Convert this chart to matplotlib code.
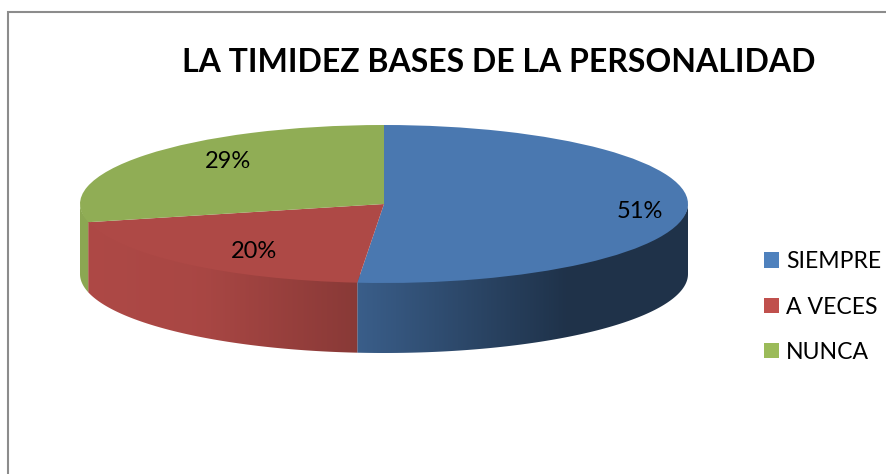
#!/usr/bin/env python3
# pie with a fake 3d side, like the excel one
import numpy as np
import matplotlib
matplotlib.use('Agg')
import matplotlib.pyplot as plt
from matplotlib.colors import to_rgb
from matplotlib.patches import Patch, Polygon, Rectangle

labels = ['SIEMPRE', 'A VECES', 'NUNCA']
values = [51.4, 19.9, 28.7]
title = 'LA TIMIDEZ BASES DE LA PERSONALIDAD'

top_colors = ['#4a78b0', '#ae4946', '#90ad55']
legend_colors = ['#4f81bd', '#c0504d', '#9bbb59']

W, H = 887, 474
plt.rcParams['font.family'] = ['Lato', 'DejaVu Sans']

fig = plt.figure(figsize=(W/100, H/100), dpi=100, facecolor='white')

# outer frame, no right/bottom line in the crop
fig.add_artist(Rectangle((8/W, -0.1), 1.1, 1.1 - 12/H, transform=fig.transFigure,
                         fill=False, edgecolor='#8c8c8c', linewidth=1.5))

# axes box = top ellipse + side wall, in pixels
depth = 70/79.
left, right, top, bottom = 80, 688, 125, 353
ax = fig.add_axes([left/W, 1-bottom/H, (right-left)/W, (bottom-top)/H])

wedges, texts, autotexts = ax.pie(values, colors=top_colors, startangle=90, counterclock=False,
                                  radius=1, autopct='%.0f%%', textprops={'fontsize': 17, 'color': 'k'},
                                  wedgeprops={'linewidth': 0, 'zorder': 3})

# side wall: horizontal gradient clipped to the visible part of each slice
shade_x = np.linspace(-1, 1, 400)
shade = np.interp((shade_x+1)/2., [0.0, 0.2, 0.45, 0.8, 1.0], [1.0, 0.97, 0.79, 0.42, 0.42])
cum = np.cumsum([0] + values)/float(sum(values))*2*np.pi
for i in range(len(values)):
    t0 = max(cum[i], np.pi/2)
    t1 = min(cum[i+1], 3*np.pi/2)
    if t1 <= t0:
        continue
    th = np.linspace(t0, t1, 120)
    xs, ys = np.sin(th), np.cos(th)
    # top edge tucked under the wedge so no white seam shows
    poly = Polygon(np.r_[np.c_[xs, ys*0.9], np.c_[xs[::-1], ys[::-1]-depth]], closed=True,
                   transform=ax.transData, facecolor='none', edgecolor='none')
    ax.add_patch(poly)
    s = shade if i < 2 else np.full_like(shade, 0.97)
    grad = np.outer(s, to_rgb(top_colors[i]))[np.newaxis, :, :]
    im = ax.imshow(grad, extent=(-1, 1, -1-depth, 1), aspect='auto', zorder=2, interpolation='bilinear')
    im.set_clip_path(poly)

ax.set_aspect('auto')
ax.set_xlim(-1, 1)
ax.set_ylim(-1-depth, 1)

# data label spots
label_px = [(640, 211), (254, 251), (228, 162)]
for txt, (px, py) in zip(autotexts, label_px):
    txt.set_transform(fig.transFigure)
    txt.set_position((px/W, 1-py/H))
    txt.set_ha('center')
    txt.set_va('center')
    txt.set_clip_on(False)
    txt.set_zorder(5)

fig.text(499/W, 1-62/H, title, fontsize=23, fontweight='bold', color='k', ha='center', va='center')

handles = [Patch(facecolor=c, edgecolor='none', label=l) for c, l in zip(legend_colors, labels)]
fig.legend(handles=handles, loc='center left', bbox_to_anchor=(764/W, 1-307/H), frameon=False,
           fontsize=16.6, handlelength=0.65, handleheight=0.65, handletextpad=0.3,
           labelspacing=1.05, borderpad=0, borderaxespad=0)

fig.savefig('out.png', dpi=100)
